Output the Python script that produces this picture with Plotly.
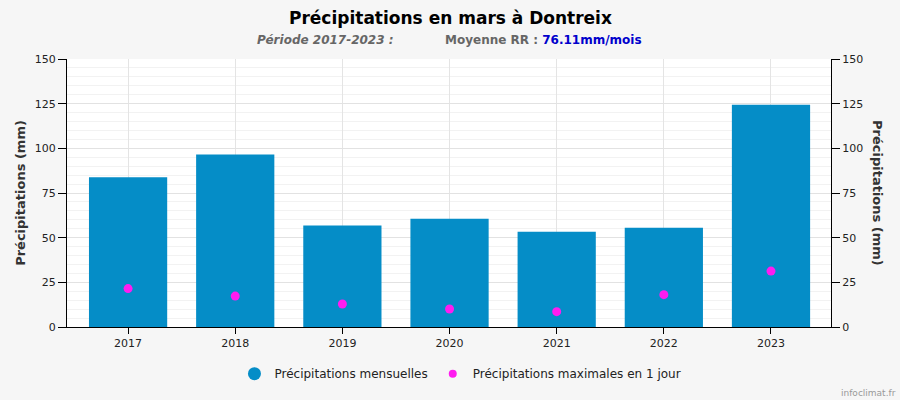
import plotly.graph_objects as go

# data
years = ["2017", "2018", "2019", "2020", "2021", "2022", "2023"]
monthly_rain = [83.8, 96.5, 56.8, 60.6, 53.3, 55.6, 124.4]
max_day_rain = [21.5, 17.3, 12.9, 10.1, 8.6, 18.1, 31.3]
y_ticks = [0, 25, 50, 75, 100, 125, 150]

font = "DejaVu Sans, Verdana, sans-serif"
blue = "#058dc7"
magenta = "#ff1cf0"

W, H = 900, 400
L, R, T, B = 67, 69, 59, 73

fig = go.Figure()

# monthly totals
fig.add_trace(go.Bar(x=years, y=monthly_rain, marker_color=blue, width=0.73,
                     marker_line_width=0, showlegend=False, hoverinfo="y"))

# max in one day (on y2 so the right axis draws)
fig.add_trace(go.Scatter(x=years, y=max_day_rain, mode="markers", yaxis="y2",
                         marker=dict(color=magenta, size=9),
                         showlegend=False))

# legend entries with round symbols
fig.add_trace(go.Scatter(x=[None], y=[None], mode="markers",
                         marker=dict(color=blue, size=13),
                         name="Précipitations mensuelles"))
fig.add_trace(go.Scatter(x=[None], y=[None], mode="markers",
                         marker=dict(color=magenta, size=8),
                         name="Précipitations maximales en 1 jour"))

axis_font = dict(family=font, size=11, color="#222")
yaxis_common = dict(
    range=[0, 150], tickvals=y_ticks, ticks="outside", ticklen=8,
    tickcolor="black", showline=True, linecolor="black", linewidth=1,
    tickfont=axis_font, zeroline=False,
)

fig.update_layout(
    width=W, height=H, autosize=False,
    margin=dict(l=L, r=R, t=T, b=B),
    paper_bgcolor="#f6f6f6",
    plot_bgcolor="white",
    font=dict(family=font),
    xaxis=dict(
        type="category", range=[-0.57, 6.56],
        ticks="outside", ticklen=6, tickcolor="black",
        showline=True, linecolor="black", linewidth=1,
        showgrid=True, gridcolor="#e4e4e4", tickfont=axis_font,
    ),
    yaxis=dict(
        **yaxis_common,
        showgrid=True, gridcolor="#e2e2e2",
        minor=dict(dtick=5, showgrid=True, gridcolor="#f2f2f2"),
        title=dict(text="<b>Précipitations (mm)</b>",
                   font=dict(family=font, size=13, color="#333"), standoff=6),
    ),
    yaxis2=dict(
        **yaxis_common, overlaying="y", side="right", showgrid=False,
    ),
    legend=dict(orientation="h", x=0.515, xanchor="center", y=-0.12,
                yanchor="top", font=dict(family=font, size=12, color="#222"),
                bgcolor="rgba(0,0,0,0)", itemwidth=30),
)

# text placed in pixel coordinates (top-left origin)
labels = [
    ("<b>Précipitations en mars à Dontreix</b>", 450, 18, 17, "black", 0),
    ("<b><i>Période 2017-2023 :</i></b>", 325, 40, 12, "#666", 0),
    ("<b>Moyenne RR : <span style='color:#0000cc'>76.11mm/mois</span></b>",
     543, 40, 12, "#666", 0),
    ("<b>Précipitations (mm)</b>", 878, 193, 13, "#333", 90),
    ("infoclimat.fr", 868, 393, 9, "#999", 0),
]
for text, px_x, px_y, size, color, angle in labels:
    fig.add_annotation(text=text, xref="paper", yref="paper",
                       x=(px_x - L) / (W - L - R),
                       y=1 - (px_y - T) / (H - T - B),
                       xanchor="center", yanchor="middle",
                       showarrow=False, textangle=angle,
                       font=dict(family=font, size=size, color=color))

fig.write_html("out.html", config={"displayModeBar": False},
               post_script="document.body.style.margin='0';"
                           "document.body.style.overflow='hidden';")
